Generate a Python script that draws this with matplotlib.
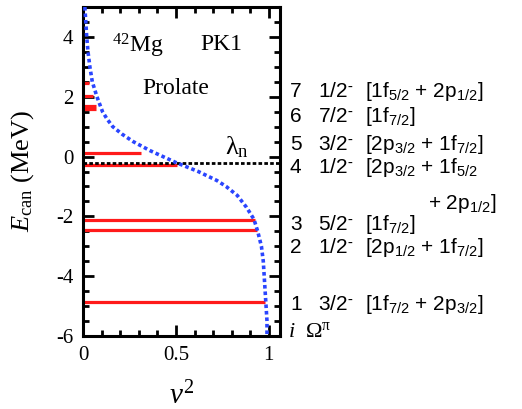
import matplotlib
matplotlib.use("Agg")
import matplotlib.pyplot as plt
from matplotlib.ticker import MultipleLocator

plt.rcParams['font.family'] = ['Liberation Serif', 'DejaVu Serif']
plt.rcParams['mathtext.fontset'] = 'custom'
plt.rcParams['mathtext.rm'] = 'Liberation Serif'
plt.rcParams['mathtext.it'] = 'Liberation Serif:italic'
plt.rcParams['mathtext.sf'] = 'Liberation Sans'
plt.rcParams['axes.unicode_minus'] = False

# --- data ---
# canonical single-particle levels (MeV) and their occupation v^2
level_E = [-4.86, -2.45, -2.11, -0.27, 0.13, 1.58, 1.68, 2.01, 2.45]
level_v2 = [0.98, 0.935, 0.925, 0.505, 0.31, 0.07, 0.07, 0.054, 0.032]

# BCS occupation curve (blue dotted), read points
curve_E = [5.0, 4.5, 4.0, 3.5, 3.0, 2.5, 2.0, 1.5, 1.25, 1.0, 0.75, 0.5, 0.2,
           0.0, -0.2, -0.35, -0.5, -0.8, -1.0, -1.3, -1.7, -2.1, -2.5, -3.0,
           -3.5, -4.0, -4.5, -5.0, -5.5, -6.0]
curve_v2 = [0.01, 0.015, 0.02, 0.027, 0.037, 0.05, 0.075, 0.105, 0.13, 0.16,
            0.21, 0.27, 0.36, 0.43, 0.50, 0.56, 0.62, 0.72, 0.77, 0.83, 0.88,
            0.92, 0.94, 0.96, 0.97, 0.975, 0.98, 0.985, 0.99, 0.99]

fermi_E = -0.2

label_idx = ['7', '6', '5', '4', '', '3', '2', '1']
label_omega = ['1/2', '7/2', '3/2', '1/2', '', '5/2', '1/2', '3/2']
label_conf = [r'[1f$_{\mathsf{5/2}}$ + 2p$_{\mathsf{1/2}}$]',
              r'[1f$_{\mathsf{7/2}}$]',
              r'[2p$_{\mathsf{3/2}}$ + 1f$_{\mathsf{7/2}}$]',
              r'[2p$_{\mathsf{3/2}}$ + 1f$_{\mathsf{5/2}}$',
              r'+ 2p$_{\mathsf{1/2}}$]',
              r'[1f$_{\mathsf{7/2}}$]',
              r'[2p$_{\mathsf{1/2}}$ + 1f$_{\mathsf{7/2}}$]',
              r'[1f$_{\mathsf{7/2}}$ + 2p$_{\mathsf{3/2}}$]']
label_base_px = [97, 122, 150, 173, 209, 230, 253, 310]

W, H = 522, 409
fig = plt.figure(figsize=(W / 100, H / 100), dpi=100)
ax = fig.add_axes([83 / W, 1 - 336 / H, (280 - 83) / W, (336 - 7) / H])

for e, v in zip(level_E, level_v2):
    ax.plot([0, v], [e, e], color='#ff1a1a', lw=2.3, solid_capstyle='butt', zorder=2)

ax.plot([0, 1.06], [fermi_E, fermi_E], color='black', lw=2.0,
        linestyle=(0, (1.3, 0.8)), zorder=3)
ax.plot(curve_v2, curve_E, color='#2a45ff', lw=2.6, linestyle=(0, (1.0, 0.8)),
        zorder=4)

ax.set_xlim(0, 1.06)
ax.set_ylim(-6, 5)
ax.xaxis.set_minor_locator(MultipleLocator(0.1))
ax.yaxis.set_major_locator(MultipleLocator(2))
ax.yaxis.set_minor_locator(MultipleLocator(0.5))
ax.set_xticks([0, 0.5, 1])
ax.set_xticklabels(['0', '0.5', '1'])
ax.tick_params(which='both', direction='in', top=True, right=True,
               labelsize=15, width=2)
ax.tick_params(which='major', length=8, pad=7)
ax.tick_params(which='minor', length=4.5)
for s in ax.spines.values():
    s.set_linewidth(2.2)

ax.set_ylabel(r'$E_{\mathrm{can}}$ (MeV)', fontsize=19, labelpad=14)
ax.set_xlabel(r'$v^{2}$', fontsize=21, labelpad=12)

ax.text((112 - 83) / 186, (157 - 53) / 29.8, r'$^{42}$Mg', fontsize=17,
        va='baseline', ha='left')
ax.text((200 - 83) / 186, (157 - 51) / 29.8, 'PK1', fontsize=17,
        va='baseline', ha='left')
ax.text((142 - 83) / 186, (157 - 95) / 29.8, 'Prolate', fontsize=17,
        va='baseline', ha='left')
ax.text((225 - 83) / 186, (157 - 155) / 29.8, r'λ$_{\mathrm{n}}$', fontsize=19,
        va='baseline', ha='left')

sans = ['Liberation Sans', 'DejaVu Sans']
fs = 15
for idx, om, conf, yb in zip(label_idx, label_omega, label_conf, label_base_px):
    fy = 1 - yb / H
    if idx:
        fig.text(290 / W, fy, idx, family=sans, fontsize=fs, va='baseline')
        fig.text(318 / W, fy, om + r'$^{\text{-}}$', family=sans, fontsize=fs,
                 va='baseline')
        fig.text(365 / W, fy, conf, family=sans, fontsize=fs, va='baseline')
    else:
        fig.text(428 / W, fy, conf, family=sans, fontsize=fs, va='baseline')

fig.text(288 / W, 1 - 337 / H, r'$\mathit{i}$', fontsize=16, va='baseline')
fig.text(305 / W, 1 - 337 / H, r'Ω$^{\mathrm{\pi}}$', fontsize=16, va='baseline')

fig.savefig('out.png', dpi=100)
